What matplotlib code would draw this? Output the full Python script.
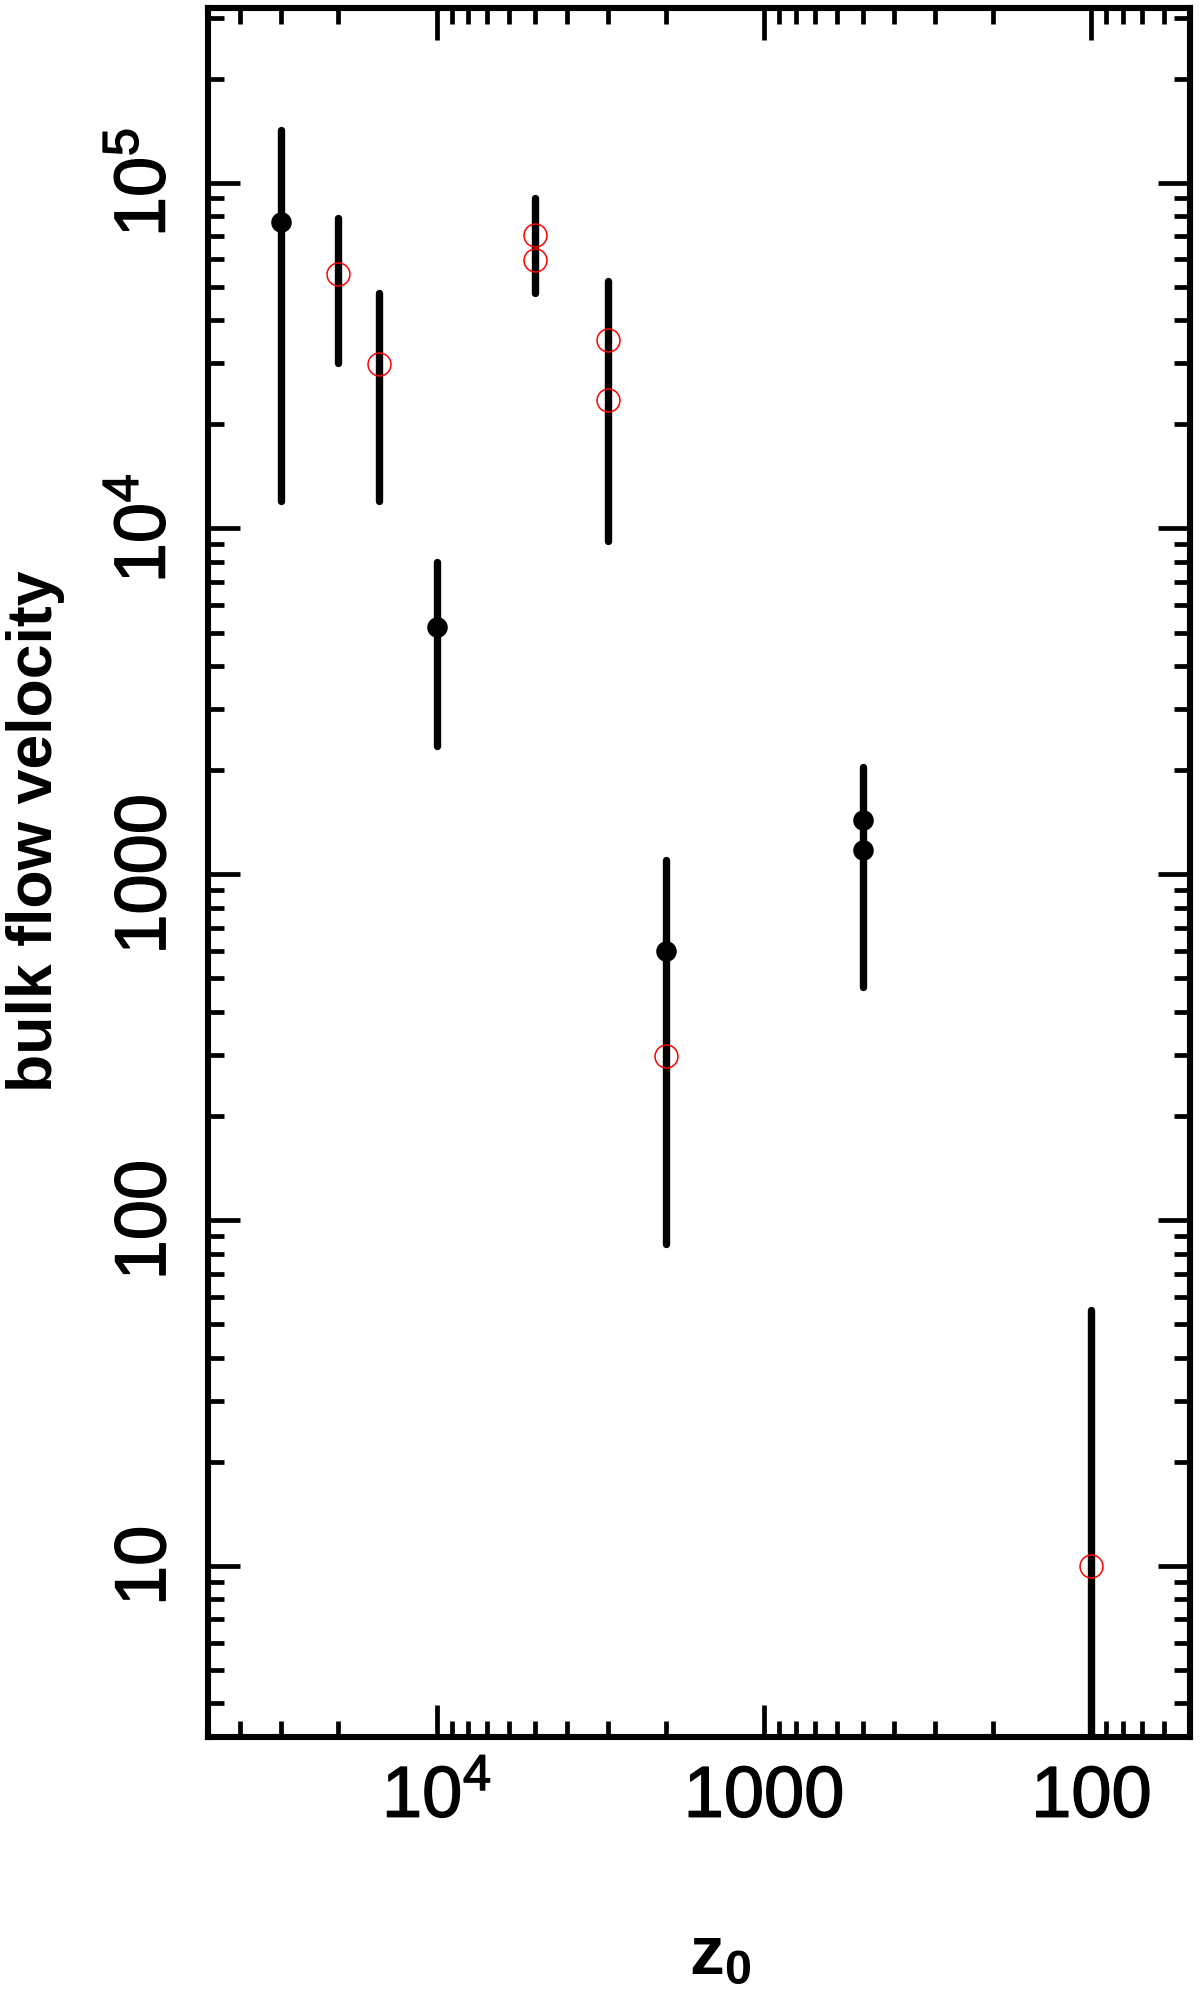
import numpy as np
import matplotlib
matplotlib.use('Agg')
import matplotlib.pyplot as plt
import matplotlib.patheffects as pe
from matplotlib.ticker import LogLocator, FuncFormatter, NullFormatter

plt.rcParams['font.family'] = ['Liberation Sans', 'DejaVu Sans']
plt.rcParams['mathtext.fontset'] = 'custom'
plt.rcParams['mathtext.rm'] = 'Liberation Sans'
plt.rcParams['mathtext.bf'] = 'Liberation Sans:bold'
plt.rcParams['mathtext.it'] = 'Liberation Sans:italic'

# ---- data ----
# vertical error bars (one per z0)
bar_z0 = [3e4, 2e4, 1.5e4, 1e4, 5e3, 3e3, 2e3, 500, 100]
bar_lo = [1.2e4, 3.0e4, 1.2e4, 2.35e3, 4.8e4, 9.2e3, 85, 473, 1]
bar_hi = [1.42e5, 7.9e4, 4.8e4, 8.0e3, 9.0e4, 5.2e4, 1097, 2043, 55]

# filled black points
filled_z0 = [3e4, 1e4, 2e3, 500, 500]
filled_v = [7.7e4, 5.2e3, 598, 1434, 1174]

# open red circles
open_z0 = [2e4, 1.5e4, 5e3, 5e3, 3e3, 3e3, 2e3, 100]
open_v = [5.45e4, 2.99e4, 7.06e4, 5.98e4, 3.5e4, 2.35e4, 299, 10]

xlim = (5e4, 50)
ylim = (3.2, 3.2e5)

fig = plt.figure(figsize=(12, 19.94), dpi=100)
ax = fig.add_axes([0.1733, 0.1289, 0.8184, 0.8671])
ax.set_xscale('log')
ax.set_yscale('log')
ax.set_xlim(*xlim)
ax.set_ylim(*ylim)

ax.vlines(bar_z0, bar_lo, bar_hi, colors='black', linewidth=5.3,
          capstyle='round', zorder=2)
ax.plot(filled_z0, filled_v, 'o', color='black', ms=14.8, mew=0, zorder=3)
ax.plot(open_z0, open_v, 'o', mfc='none', mec='red', ms=16.5, mew=1.1, zorder=4)

def fmt(v, p):
    e = int(round(np.log10(v)))
    if e >= 4:
        return r'$10^{%d}$' % e
    return '%d' % int(round(v))

for axis in (ax.xaxis, ax.yaxis):
    axis.set_major_locator(LogLocator(base=10, numticks=20))
    axis.set_minor_locator(LogLocator(base=10, subs=np.arange(2, 10), numticks=20))
    axis.set_major_formatter(FuncFormatter(fmt))
    axis.set_minor_formatter(NullFormatter())

ax.tick_params(which='both', direction='in', top=True, right=True,
               width=3.4, color='black')
ax.tick_params(which='major', length=23, pad=20, labelsize=52)
ax.tick_params(which='minor', length=11.5)
ax.tick_params(axis='y', labelrotation=90)

thick = [pe.withStroke(linewidth=1.0, foreground='black')]
for lab in ax.get_yticklabels():
    lab.set_verticalalignment('center')
    lab.set_path_effects(thick)
for lab in ax.get_xticklabels():
    lab.set_path_effects(thick)

for s in ax.spines.values():
    s.set_linewidth(4.4)

ax.set_ylabel('bulk flow velocity', fontsize=45, fontweight='bold',
              va='center', ha='center')
ax.yaxis.set_label_coords(-0.176, 0.524)
ax.set_xlabel(r'$\mathbf{z}_\mathbf{0}$', fontsize=50, va='center', ha='center')
ax.xaxis.set_label_coords(0.522, -0.1267)

fig.savefig('out.png', dpi=100)
